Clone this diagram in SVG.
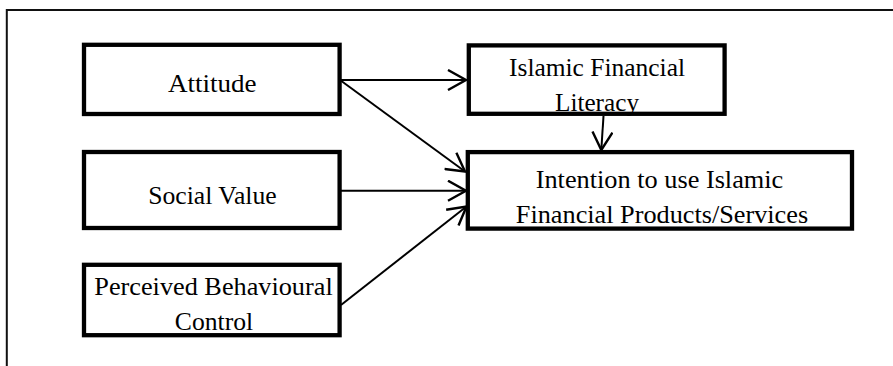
<svg xmlns="http://www.w3.org/2000/svg" width="893" height="366" viewBox="0 0 893 366">
<style>
.box{fill:#fff;stroke:#000;stroke-width:4.3}
.lbl{font-family:"Liberation Serif","DejaVu Serif",serif;font-size:26px;fill:#000;text-anchor:middle}
.edge{stroke:#000;stroke-width:2;fill:none}
.frame{stroke:#111;stroke-width:2;fill:none}
</style>
<defs>
<marker id="arr" viewBox="0 0 22 22" refX="20" refY="11" markerWidth="22" markerHeight="22" markerUnits="userSpaceOnUse" orient="auto">
<path d="M2,1 L20,11 L2,21" fill="none" stroke="#000" stroke-width="2.4"/>
</marker>
</defs>
<rect width="893" height="366" fill="#fff"/>
<path class="frame" d="M6.8,366 L6.8,10 L893,10"/>
<g id="connectors">
<line class="edge" x1="340" y1="80" x2="466" y2="80" marker-end="url(#arr)"/>
<line class="edge" x1="340" y1="80" x2="465" y2="171.5" marker-end="url(#arr)"/>
<line class="edge" x1="340" y1="190.7" x2="466" y2="190.7" marker-end="url(#arr)"/>
<line class="edge" x1="341" y1="305" x2="466.5" y2="206.5" marker-end="url(#arr)"/>
<line class="edge" x1="603.5" y1="116" x2="601.3" y2="150" marker-end="url(#arr)"/>
</g>
<g id="attitude">
<rect class="box" x="84" y="44.8" width="255.6" height="69.2"/>
<text class="lbl" x="212.3" y="92.3" textLength="88.7" lengthAdjust="spacingAndGlyphs">Attitude</text>
</g>
<g id="social-value">
<rect class="box" x="84" y="152" width="255.6" height="76"/>
<text class="lbl" x="212.5" y="203.5" textLength="128.4" lengthAdjust="spacingAndGlyphs">Social Value</text>
</g>
<g id="pbc">
<rect class="box" x="84" y="264.8" width="255.6" height="70.4"/>
<text class="lbl" x="213.5" y="295" textLength="238.4" lengthAdjust="spacingAndGlyphs">Perceived Behavioural</text>
<text class="lbl" x="214" y="330" textLength="78.3" lengthAdjust="spacingAndGlyphs">Control</text>
</g>
<g id="islamic-financial-literacy">
<rect class="box" x="468.8" y="45.4" width="255.8" height="68.4"/>
<text class="lbl" x="597" y="75.7" textLength="176" lengthAdjust="spacingAndGlyphs">Islamic Financial</text>
<text class="lbl" x="597" y="110.5" textLength="84" lengthAdjust="spacingAndGlyphs">Literacy</text>
</g>
<g id="intention">
<rect class="box" x="467.8" y="152.1" width="384.2" height="76.5"/>
<text class="lbl" x="659.5" y="188.3" textLength="247.6" lengthAdjust="spacingAndGlyphs">Intention to use Islamic</text>
<text class="lbl" x="662" y="222.7" textLength="292.3" lengthAdjust="spacingAndGlyphs">Financial Products/Services</text>
</g>
</svg>
